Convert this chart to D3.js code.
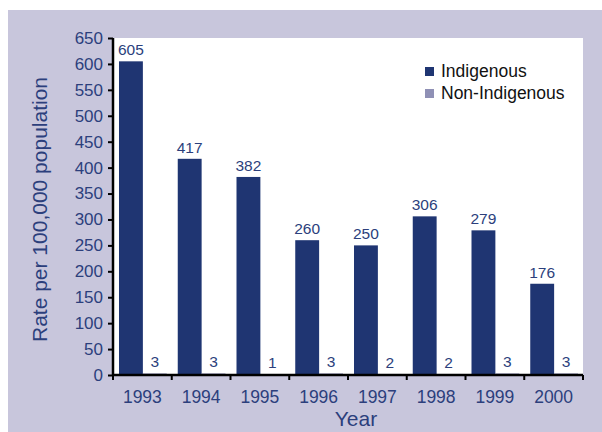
<!DOCTYPE html>
<html>
<head>
<meta charset="utf-8">
<script src="https://cdn.jsdelivr.net/npm/d3@7"></script>
<style>
  body { margin: 0; background: #fff; }
  svg { display: block; font-family: "Liberation Sans", Arial, sans-serif; }
</style>
</head>
<body>
<script>
var years = ["1993", "1994", "1995", "1996", "1997", "1998", "1999", "2000"];
var indigenous = [605, 417, 382, 260, 250, 306, 279, 176];
var nonIndigenous = [3, 3, 1, 3, 2, 2, 3, 3];
var seriesNames = ["Indigenous", "Non-Indigenous"];
var yTicks = d3.range(0, 651, 50);

var navy = "#1f3572", lilac = "#8f90b5", textCol = "#2c3f7c";

var margin = {top: 38, right: 19, bottom: 57, left: 113},
    width = 602 - margin.left - margin.right,
    height = 432 - margin.top - margin.bottom;

var svg = d3.select("body").append("svg")
    .attr("width", 602)
    .attr("height", 432);

// lavender frame
svg.append("rect")
    .attr("x", 8).attr("y", 10)
    .attr("width", 594).attr("height", 422)
    .attr("fill", "#c8c6dc");

var g = svg.append("g")
    .attr("transform", "translate(" + margin.left + "," + margin.top + ")");

g.append("rect")
    .attr("x", 0).attr("y", 0)
    .attr("width", width).attr("height", height)
    .attr("fill", "#fff");

var x = d3.scaleBand()
    .domain(years)
    .range([0, width]);

var x1 = d3.scaleBand()
    .domain(seriesNames)
    .range([6, x.bandwidth() - 5]);

var y = d3.scaleLinear()
    .domain([0, 650])
    .range([height, 0]);

var data = years.map(function(yr, i) {
  return {year: yr, values: [
    {name: "Indigenous", value: indigenous[i]},
    {name: "Non-Indigenous", value: nonIndigenous[i]}
  ]};
});

var colour = d3.scaleOrdinal().domain(seriesNames).range([navy, lilac]);

var groups = g.selectAll(".grp")
    .data(data)
  .enter().append("g")
    .attr("class", "grp")
    .attr("transform", function(d) { return "translate(" + x(d.year) + ",0)"; });

groups.selectAll("rect")
    .data(function(d) { return d.values; })
  .enter().append("rect")
    .attr("x", function(d) { return x1(d.name); })
    .attr("y", function(d) { return y(d.value); })
    .attr("width", x1.bandwidth())
    .attr("height", function(d) { return y(0) - y(d.value); })
    .attr("fill", function(d) { return colour(d.name); });

groups.selectAll("text")
    .data(function(d) { return d.values; })
  .enter().append("text")
    .attr("x", function(d) { return x1(d.name) + x1.bandwidth() / 2; })
    .attr("y", function(d) { return y(d.value) - 6; })
    .attr("text-anchor", "middle")
    .attr("fill", textCol)
    .style("font-size", "15.5px")
    .text(function(d) { return d.value; });

// y axis
var yAxis = d3.axisLeft(y).tickValues(yTicks).tickSize(5).tickPadding(5);
var ya = g.append("g").attr("class", "y-axis").call(yAxis);
ya.select(".domain").attr("stroke", "#000").attr("stroke-width", 2.5)
    .attr("d", "M0," + (height + 1) + "V0");
ya.selectAll(".tick line").attr("stroke", "#000").attr("stroke-width", 2);
ya.selectAll(".tick text").attr("fill", textCol).style("font-size", "17px");

// x axis with ticks at band boundaries
var xa = g.append("g").attr("class", "x-axis")
    .attr("transform", "translate(0," + height + ")");
xa.append("line")
    .attr("x1", -1).attr("x2", width)
    .attr("stroke", "#000").attr("stroke-width", 2.5);
xa.selectAll(".xtick")
    .data(years.concat(["end"]))
  .enter().append("line")
    .attr("x1", function(d) { return d === "end" ? width : x(d); })
    .attr("x2", function(d) { return d === "end" ? width : x(d); })
    .attr("y1", 0).attr("y2", 5)
    .attr("stroke", "#000").attr("stroke-width", 2);
xa.selectAll(".xlab")
    .data(years)
  .enter().append("text")
    .attr("x", function(d) { return x(d) + x.bandwidth() / 2; })
    .attr("y", 28)
    .attr("text-anchor", "middle")
    .attr("fill", textCol)
    .style("font-size", "17.5px")
    .text(function(d) { return d; });

// axis titles
svg.append("text")
    .attr("transform", "translate(47," + (margin.top + height / 2 + 3) + ") rotate(-90)")
    .attr("text-anchor", "middle")
    .attr("fill", textCol)
    .style("font-size", "21px")
    .text("Rate per 100,000 population");

svg.append("text")
    .attr("x", 356)
    .attr("y", 426)
    .attr("text-anchor", "middle")
    .attr("fill", textCol)
    .style("font-size", "21px")
    .text("Year");

// legend
var legend = svg.selectAll(".legend")
    .data(seriesNames)
  .enter().append("g")
    .attr("class", "legend")
    .attr("transform", function(d, i) { return "translate(425," + (67 + i * 22) + ")"; });
legend.append("rect")
    .attr("width", 9).attr("height", 9)
    .attr("fill", function(d) { return colour(d); });
legend.append("text")
    .attr("x", 16).attr("y", 9.5)
    .attr("fill", "#111")
    .style("font-size", "17.5px")
    .text(function(d) { return d; });
</script>
</body>
</html>
